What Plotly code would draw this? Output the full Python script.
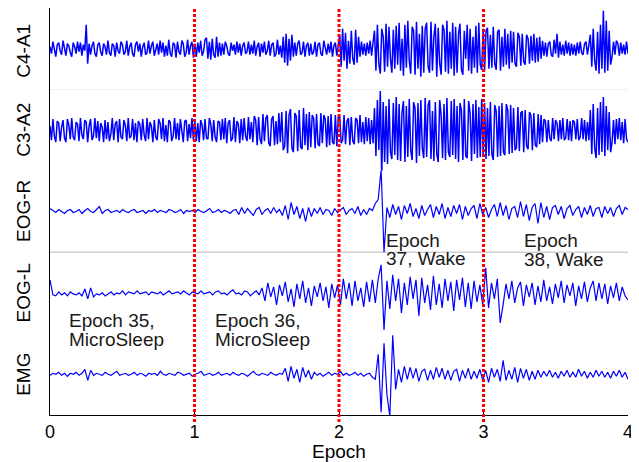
import numpy as np
import plotly.graph_objects as go
from plotly.subplots import make_subplots

# ---- data (signal amplitudes, arbitrary units) ----
channels = ["C4-A1", "C3-A2", "EOG-R", "EOG-L", "EMG"]
epoch_ticks = [0, 1, 2, 3, 4]
epoch_bounds = [1, 2, 3]

c4_a1 = [2,-5,7,-3,-8,4,6,-2,-6,8,1,-7,5,3,-4,-8,6,2,-5,7,
         -3,6,-7,4,-2,24,-15,5,-6,3,7,-5,-8,4,6,-3,-7,5,2,-6,
         8,-4,-7,5,3,-8,6,-2,-5,7,4,-6,-3,8,-7,2,6,-5,-8,4,
         7,-3,5,-8,2,6,-6,-4,8,-5,3,7,-7,-2,5,-6,8,-4,6,-8,
         3,-7,9,-5,-8,6,4,-9,7,-3,-6,8,5,-8,-4,9,-6,3,7,-9,
         5,-8,6,-4,8,-7,-3,9,11,-10,7,-11,10,-6,-9,12,-8,6,-7,5,
         -6,7,3,-5,-7,6,-2,4,-6,7,-4,5,-7,3,6,-5,-3,7,-6,4,
         -5,8,-7,2,6,-8,5,-4,7,-6,-2,8,-7,4,6,-8,-5,9,-6,3,
         -9,12,-14,15,-17,10,-12,14,-8,6,-7,5,8,-6,-4,7,-8,3,6,-7,
         5,-6,-3,7,-8,4,6,-5,-7,8,2,-6,5,-4,7,-8,3,6,-7,5,
         14,-18,20,-12,16,-20,8,-15,18,-10,-16,19,-14,12,-8,7,-6,5,-7,6,
         -5,8,-7,6,18,-22,24,-15,-25,20,12,-23,25,-18,22,-10,-24,19,-20,23,
         -16,26,-22,10,-27,24,-19,28,-12,-25,22,18,-26,27,-20,15,-28,23,-24,20,
         26,-18,-24,27,-22,12,25,-28,21,-15,-26,24,19,-23,28,-25,17,-20,26,-27,
         22,-24,15,25,-21,-26,18,-10,24,-22,20,-25,12,-19,23,-24,26,-16,-21,20,
         -22,18,21,-20,14,-19,22,-15,-21,17,19,-22,12,-18,20,-16,15,-20,18,-14,
         17,-15,-18,16,12,-17,15,-13,-16,14,10,-15,13,-12,15,-14,11,-13,12,-10,
         8,-7,6,-8,5,7,-6,-8,9,-5,15,-9,7,-6,4,-7,8,-5,6,-7,
         5,-6,4,-7,6,-5,7,-4,-6,5,7,-6,4,14,-18,20,-12,-22,17,-25,
         24,-20,38,-24,28,-22,18,-16,-8,7,-6,8,5,-7,6,-5,4,-6,7,-5]

c3_a2 = [4,-10,11,-6,-12,9,7,-11,3,10,-8,-12,11,5,-9,12,-7,-10,8,6,
         -11,12,-5,-9,10,8,-12,4,11,-10,-6,12,-8,9,-11,7,3,-12,10,-9,
         8,-11,-4,12,-10,6,9,-12,11,-7,-9,10,5,-11,12,-8,-6,11,-10,7,
         -12,9,6,-10,11,-5,-11,12,-9,8,4,-12,10,-7,-10,11,7,-9,12,-11,
         5,-12,10,8,-11,-6,12,-9,7,-10,11,-4,-12,9,10,-11,6,-8,12,-10,
         9,-11,7,-12,10,5,-10,11,-8,-9,12,6,-11,10,-7,-12,9,8,-10,11,
         -9,12,-13,7,10,-11,-8,13,-12,9,6,-13,11,-10,12,-6,-11,13,-9,8,
         -12,14,10,-15,13,-9,-14,16,-11,12,15,-13,-16,11,14,-15,9,-14,17,-12,
         18,-20,-16,19,-23,15,21,-18,-22,17,14,-21,20,-17,-19,22,-15,16,-20,18,
         -17,15,12,-18,16,-14,-16,17,-13,15,11,-17,14,-15,16,-12,-14,15,-16,13,
         14,-13,-10,15,-14,9,12,-15,13,-11,-14,12,10,-13,15,-12,8,-14,13,-11,
         12,-14,10,-13,22,-26,30,-20,39,-48,28,-32,24,-34,31,-22,-29,27,-25,33,
         -30,26,-31,18,29,-32,24,-27,31,-20,-30,28,22,-33,27,-26,30,-18,-28,32,
         -27,25,30,-29,19,-31,28,-24,-32,30,15,-28,26,-30,32,-22,-27,29,-25,31,
         -29,24,-32,27,20,-30,31,-26,-28,29,17,-31,26,-24,30,-28,23,-27,31,-25,
         27,-29,22,-26,28,-24,-30,25,19,-27,24,-26,27,-22,-25,26,20,-24,25,-23,
         22,-20,-18,23,-21,17,19,-22,20,-16,-19,18,15,-20,17,-15,-17,16,-14,15,
         -12,11,9,-12,10,-8,-11,12,-9,10,7,-11,10,-9,12,-10,-8,11,-10,9,
         -11,10,8,-9,11,-10,-7,12,-9,10,-11,8,-10,20,-24,26,-18,-28,22,-25,
         28,-22,33,-26,24,-20,18,-22,-12,10,-14,11,-9,12,-10,8,-13,11,-9,-12]

eog_r = [3,1,-1,2,0,-2,1,2,-1,0,2,-2,1,3,0,-1,2,5,-2,1,2,-1,0,1,-1,2,0,-1,1,2,
         -1,0,1,-2,1,0,2,-1,1,0,-1,2,1,-1,0,2,-2,1,0,1,-1,2,0,-1,1,3,-1,0,2,-1,1,0,-2,1,2,
         -3,4,-2,3,0,-4,2,4,-3,1,3,-2,4,-1,2,-4,
         6,-8,9,-3,5,-7,3,-10,4,-5,
         3,-2,4,-3,2,1,-4,3,-1,2,4,-3,1,3,-2,5,-4,2,-3,3,1,
         8,12,42,-41,
         4,-6,7,-3,5,-8,6,-2,8,-5,3,-7,6,-4,2,7,-6,5,-3,8,-7,4,-5,6,-2,7,-8,5,-4,3,
         6,-7,8,-3,4,-6,2,7,-5,9,-4,6,-8,3,5,-6,10,-5,7,-9,4,8,-12,9,-6,5,-8,4,6,-3,
         5,-7,3,6,-4,2,5,-6,4,-3,6,-5,3,4,-6,5,-2,4,-5,3,6,-3,4,2]

eog_l = [13,-2,-3,1,-2,0,-3,1,-1,-2,0,-3,4,-6,5,-4,-1,-2,0,-3,-1,
         1,-2,0,-1,2,-2,1,0,-1,2,-1,0,1,-2,1,0,-1,1,-2,0,2,-1,0,1,-1,2,0,-2,1,0,
         -1,2,-1,0,1,-2,1,2,-1,0,-2,1,3,-1,0,-2,2,1,-3,0,2,-2,
         5,-8,10,-4,6,-12,8,-3,11,-9,4,-14,9,-6,12,-10,5,-13,7,-4,10,-8,6,-15,9,-5,8,
         -12,14,-6,10,-13,12,-8,5,-14,11,-9,13,
         -10,14,28,-37,
         12,-16,18,-8,14,-20,10,-12,16,-6,13,-23,15,-10,8,-17,17,-12,9,-15,14,-8,11,-18,13,-7,15,-14,10,-16,12,-9,8,-12,
         25,-15,10,-6,14,-30,-12,
         9,-6,12,-10,5,11,-13,8,-4,10,-12,7,-9,13,-8,6,-11,9,-5,12,-10,8,-3,10,-13,7,-6,11,-9,5,
         12,-8,10,-6,9,-11,7,-5,10,-8,6,-3,-7]

emg = [-1,1,0,2,-1,1,-2,1,0,2,-1,1,
       5,-6,4,
       -1,1,0,-1,2,0,-1,1,3,-1,0,1,-1,0,2,-1,1,0,-2,1,
       0,1,-1,3,0,-1,1,0,-1,2,1,-1,0,1,-2,0,1,3,-1,0,
       1,-1,0,2,-1,0,1,-1,2,0,-1,1,0,-2,1,3,0,-1,1,0,
       -1,2,0,-1,1,0,
       6,-7,8,-4,5,-8,7,-3,4,-5,
       2,-1,1,-2,0,2,-1,1,0,3,-1,1,-1,0,2,-1,1,-2,0,1,-3,
       -5,20,-38,31,-20,-42,39,-15,5,-8,8,
       -5,7,-4,6,-7,3,5,-6,4,-5,7,-3,6,-5,4,-6,3,5,-7,4,-4,6,-5,3,-4,
       5,-6,4,-8,6,-3,5,-7,14,-6,4,-5,7,-8,6,-4,5,-6,3,-5,4,-3,
       3,-2,4,-3,2,-4,3,-2,4,-3,2,-3,5,-2,3,-4,2,-3,4,-2,3,-3,2,-4,3,-2,4,-3,2,-5]

signals = [c4_a1, c3_a2, eog_r, eog_l, emg]

annot_lines = [
    (0.115, 0.2334, "Epoch 35,"), (0.115, 0.1843, "MicroSleep"),
    (1.13, 0.2334, "Epoch 36,"), (1.13, 0.1843, "MicroSleep"),
    (2.31, 0.4287, "Epoch"), (2.31, 0.3857, "37, Wake"),
    (3.265, 0.4287, "Epoch"), (3.265, 0.381, "38, Wake"),
]

FONT = "Liberation Sans, Arial, Helvetica, sans-serif"

fig = make_subplots(rows=5, cols=1, shared_xaxes=True, vertical_spacing=0)

for r, sig in enumerate(signals, start=1):
    x = np.linspace(0, 4, len(sig))
    fig.add_trace(go.Scatter(x=x, y=sig, mode="lines",
                             line=dict(color="#0000ff", width=1.5 if r <= 2 else 1.2),
                             showlegend=False, hoverinfo="skip"), row=r, col=1)
    fig.update_yaxes(range=[-40.7, 40.7], showline=True, linecolor="black",
                     linewidth=1, ticks="", showticklabels=False,
                     showgrid=False, zeroline=False, row=r, col=1)
    fig.update_xaxes(range=[0, 4], showgrid=False, zeroline=False,
                     showticklabels=False, ticks="", showline=False, row=r, col=1)

fig.update_xaxes(showticklabels=True, tickvals=epoch_ticks, ticks="inside",
                 ticklen=5, tickcolor="black", showline=True, linecolor="black",
                 linewidth=1, tickfont=dict(size=18, color="black", family=FONT),
                 title=dict(text="Epoch", font=dict(size=19, color="black", family=FONT),
                            standoff=2),
                 automargin=False, row=5, col=1)

shapes = []
shapes.append(dict(type="line", xref="paper", yref="paper", x0=0, x1=1, y0=0.4, y1=0.4,
                   line=dict(color="#b8b8b8", width=1), layer="below"))
shapes.append(dict(type="line", xref="paper", yref="paper", x0=0, x1=1, y0=0.8, y1=0.8,
                   line=dict(color="#f0f0f0", width=1), layer="below"))
for b in epoch_bounds:
    shapes.append(dict(type="line", xref="x5", yref="paper", x0=b, x1=b,
                       y0=-0.0172, y1=1.0,
                       line=dict(color="#ff0000", width=3, dash="3px,2px")))

annotations = []
for (ax, ay, txt) in annot_lines:
    annotations.append(dict(x=ax, y=ay, xref="x5", yref="paper", text=txt,
                            showarrow=False, xanchor="left", yanchor="middle",
                            font=dict(size=19, color="#1a1a1a", family=FONT)))
label_y = [0.894, 0.7, 0.5, 0.3, 0.1]
for name, ly in zip(channels, label_y):
    annotations.append(dict(x=-0.0458, y=ly, xref="paper", yref="paper", text=name,
                            showarrow=False, textangle=-90, xanchor="center",
                            yanchor="middle",
                            font=dict(size=19, color="black", family=FONT)))

# page body has an 8px default margin, so the figure is sized/offset to compensate
fig.update_layout(width=631, height=454,
                  margin=dict(l=42, r=11, t=0, b=47, autoexpand=False),
                  paper_bgcolor="white", plot_bgcolor="white",
                  shapes=shapes, annotations=annotations,
                  font=dict(family=FONT))

fig.write_html("out.html")
